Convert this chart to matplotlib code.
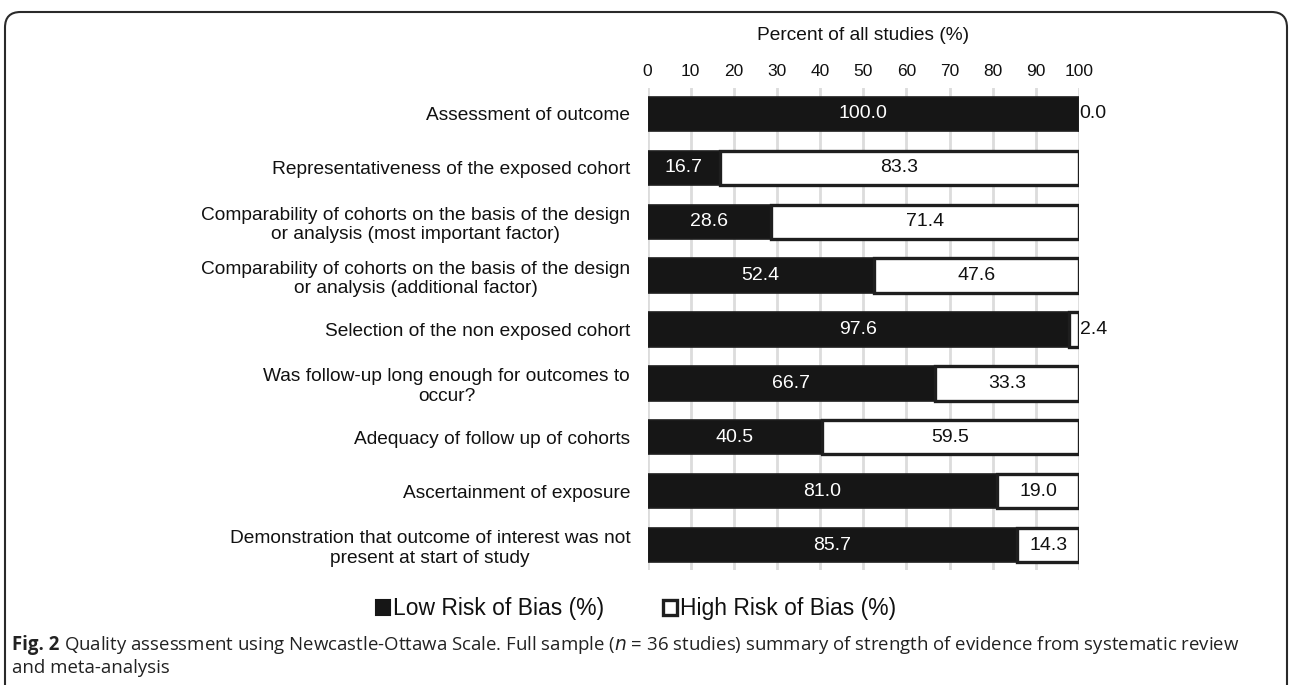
import matplotlib
matplotlib.use("Agg")
import matplotlib.pyplot as plt
from matplotlib.patches import Patch, FancyBboxPatch
import numpy as np

# ---- data -------------------------------------------------------------
categories = [
    "Assessment of outcome",
    "Representativeness of the exposed cohort",
    "Comparability of cohorts on the basis of the design\nor analysis (most important factor)",
    "Comparability of cohorts on the basis of the design\nor analysis (additional factor)",
    "Selection of the non exposed cohort",
    "Was follow-up long enough for outcomes to\noccur?",
    "Adequacy of follow up of cohorts",
    "Ascertainment of exposure",
    "Demonstration that outcome of interest was not\npresent at start of study",
]
low_risk = [100.0, 16.7, 28.6, 52.4, 97.6, 66.7, 40.5, 81.0, 85.7]
high_risk = [0.0, 83.3, 71.4, 47.6, 2.4, 33.3, 59.5, 19.0, 14.3]
x_ticks = [0, 10, 20, 30, 40, 50, 60, 70, 80, 90, 100]
series_names = ["Low Risk of Bias (%)", "High Risk of Bias (%)"]
axis_title = "Percent of all studies (%)"

# ---- figure -----------------------------------------------------------
W, H = 1292, 685
fig = plt.figure(figsize=(W / 100, H / 100), dpi=100)
fig.patch.set_facecolor("white")

FONT = ["Liberation Sans", "DejaVu Sans"]
DARK = "#161616"
EDGE = "#1e1e1e"

def fx(px):
    return px / W

def fy(py):
    return 1 - py / H

# plot area: first row centred at 114 px, last row at 545 px
ax_left, ax_right = 647.5, 1079
ax_top, ax_bottom = 88, 570
ax = fig.add_axes([fx(ax_left), fy(ax_bottom), fx(ax_right - ax_left), (ax_bottom - ax_top) / H])

y = np.arange(len(categories))
bar_h = 0.64
ax.barh(y, low_risk, height=bar_h, color=DARK, edgecolor=EDGE, linewidth=1.2, zorder=3)
ax.barh(y, high_risk, left=low_risk, height=bar_h, color="white", edgecolor=EDGE,
        linewidth=2.4, zorder=3)

# value labels
for yi, lo, hi in zip(y, low_risk, high_risk):
    if lo >= 5:
        ax.text(lo / 2, yi, f"{lo:.1f}", ha="center", va="center", color="white",
                fontsize=14, family=FONT, zorder=5)
    if hi >= 5:
        ax.text(lo + hi / 2, yi, f"{hi:.1f}", ha="center", va="center", color="#111111",
                fontsize=14, family=FONT, zorder=5)
    else:
        ax.text(lo + hi + 0.15, yi, f"{hi:.1f}", ha="left", va="center", color="#111111",
                fontsize=14, family=FONT, zorder=5)

spacing = (545 - 114) / 8
ax.set_xlim(0, 100)
ax.set_ylim(8 + (570 - 545) / spacing, -(114 - 88) / spacing)
ax.set_xticks(x_ticks)
ax.set_xticklabels([str(t) for t in x_ticks], family=FONT, fontsize=12.5, color="#111111")
ax.xaxis.tick_top()
ax.tick_params(axis="x", length=0, pad=6.5)
ax.set_yticks(y)
ax.set_yticklabels(categories, family=FONT, fontsize=13.8, color="#111111",
                   multialignment="center", linespacing=1.2)
ax.tick_params(axis="y", length=0, pad=12.5)
ax.grid(axis="x", color="#dcdcdc", linewidth=2, zorder=0)
for s in ax.spines.values():
    s.set_visible(False)

fig.text(fx((ax_left + ax_right) / 2), fy(35), axis_title, ha="center", va="center",
         family=FONT, fontsize=13.8, color="#111111")

# legend
handles = [Patch(facecolor=DARK, edgecolor=DARK, linewidth=1.5),
           Patch(facecolor="white", edgecolor=EDGE, linewidth=2.4)]
leg = fig.legend(handles, series_names, loc="center", bbox_to_anchor=(fx(636), fy(609)),
                 ncol=2, frameon=False, handlelength=0.6, handleheight=0.6,
                 handletextpad=0.12, columnspacing=2.6,
                 prop={"family": FONT, "size": 16.5})
for t in leg.get_texts():
    t.set_color("#111111")

# caption
CAP = ["Open Sans", "DejaVu Sans"]
cap_x = 12
cap_size = 13.4
bold = fig.text(fx(cap_x), fy(645), "Fig. 2", ha="left", va="center", family=CAP,
                fontsize=cap_size, weight="bold", color="#222222")
fig.canvas.draw()
bb = bold.get_window_extent()
fig.text(fx(bb.x1 + 5), fy(645),
         "Quality assessment using Newcastle-Ottawa Scale. Full sample ($\\it{n}$ = 36 studies) "
         "summary of strength of evidence from systematic review",
         ha="left", va="center", family=CAP, fontsize=cap_size, color="#222222")
fig.text(fx(cap_x), fy(668), "and meta-analysis", ha="left", va="center", family=CAP,
         fontsize=cap_size, color="#222222")

# rounded frame around the figure
frame = FancyBboxPatch((fx(5), fy(700)), fx(1287 - 5), (700 - 12) / H,
                       boxstyle="round,pad=0,rounding_size=0.012",
                       transform=fig.transFigure, facecolor="none",
                       edgecolor="#2a2a2a", linewidth=1.5, mutation_aspect=W / H)
fig.patches.append(frame)

fig.savefig("out.png", dpi=100, facecolor="white")
